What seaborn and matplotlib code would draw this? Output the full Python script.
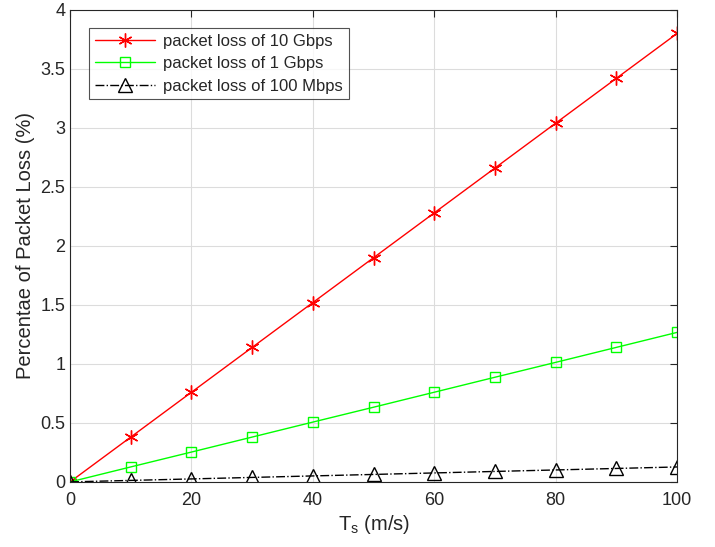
import matplotlib
matplotlib.use("Agg")
import matplotlib.pyplot as plt
import seaborn as sns
import pandas as pd

ts = [0, 10, 20, 30, 40, 50, 60, 70, 80, 90, 100]
loss_10g = [0, 0.38, 0.76, 1.14, 1.52, 1.90, 2.28, 2.66, 3.04, 3.42, 3.80]
loss_1g = [0, 0.127, 0.253, 0.38, 0.507, 0.633, 0.76, 0.887, 1.013, 1.14, 1.267]
loss_100m = [0, 0.0127, 0.0253, 0.038, 0.0507, 0.0633, 0.076, 0.0887, 0.1013, 0.114, 0.1267]
labels = ["packet loss of 10 Gbps", "packet loss of 1 Gbps", "packet loss of 100 Mbps"]
xticks = [0, 20, 40, 60, 80, 100]
yticks = [0, 0.5, 1, 1.5, 2, 2.5, 3, 3.5, 4]
ytick_labels = ["0", "0.5", "1", "1.5", "2", "2.5", "3", "3.5", "4"]

df = pd.DataFrame({
    "ts": ts * 3,
    "loss": loss_10g + loss_1g + loss_100m,
    "series": [labels[0]] * len(ts) + [labels[1]] * len(ts) + [labels[2]] * len(ts),
})

sns.set_style("white")
plt.rcParams['font.family'] = ['Liberation Sans', 'DejaVu Sans']

fig = plt.figure(figsize=(7.15, 5.47), dpi=100)
ax = fig.add_axes([0.098, 0.119, 0.849, 0.863])

styles = {
    labels[0]: dict(color="#ff0000", marker=(6, 2, 0), ls="-", ms=10),
    labels[1]: dict(color="#00ff00", marker="s", ls="-", ms=7.5),
    labels[2]: dict(color="black", marker="^", ls="-.", ms=10),
}
for lab in labels:
    st = styles[lab]
    sub = df[df["series"] == lab]
    sns.lineplot(data=sub, x="ts", y="loss", ax=ax, color=st["color"],
                 linestyle=st["ls"], marker=st["marker"], markersize=st["ms"],
                 markerfacecolor="none", markeredgecolor=st["color"],
                 markeredgewidth=1.0, linewidth=1.0, label=lab)

ax.set_xlim(0, 100)
ax.set_ylim(0, 4)
ax.set_xticks(xticks)
ax.set_yticks(yticks)
ax.set_yticklabels(ytick_labels)
ax.grid(True, color="#dcdcdc", linewidth=0.8)
ax.tick_params(direction="in", length=5, top=True, right=True, labelsize=13,
               colors="#262626", width=0.8)
ax.tick_params(axis="x", pad=7)
for sp in ax.spines.values():
    sp.set_visible(True)
    sp.set_color("#262626")
    sp.set_linewidth(0.8)

ax.set_xlabel(r"T$_{\mathregular{s}}$ (m/s)", fontsize=14.5, color="#262626", labelpad=3)
ax.set_ylabel("Percentae of Packet Loss (%)", fontsize=14.5, color="#262626")

leg = ax.legend(loc="upper left", bbox_to_anchor=(0.031, 0.962), fontsize=12,
                frameon=True, fancybox=False, edgecolor="#262626",
                handlelength=3.6, handletextpad=0.5, borderpad=0.35,
                labelspacing=0.45, borderaxespad=0)
leg.get_frame().set_linewidth(0.8)

fig.savefig("out.png", dpi=100)
